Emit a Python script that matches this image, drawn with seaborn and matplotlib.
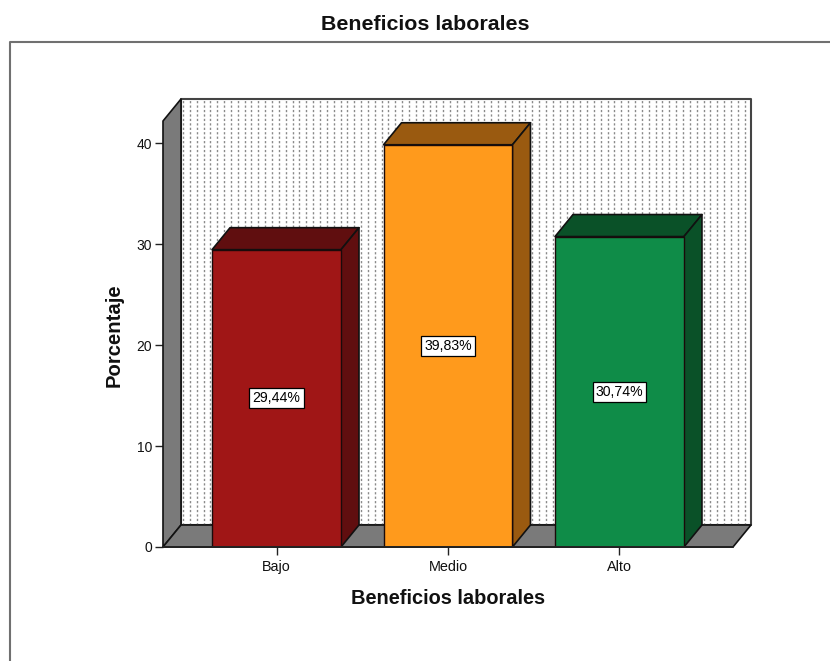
import numpy as np
import matplotlib
matplotlib.use('Agg')
import matplotlib.pyplot as plt
from matplotlib.lines import Line2D
from matplotlib.patches import Polygon
import seaborn as sns

categorias = ['Bajo', 'Medio', 'Alto']
porcentajes = [29.44, 39.83, 30.74]
cores_frente = ['#A01616', '#FF9A1C', '#0F8C48']
cores_lado = ['#600E0F', '#9A5A10', '#0A5128']
ticks_y = [0, 10, 20, 30, 40]

titulo = 'Beneficios laborales'
rotulo_x = 'Beneficios laborales'
rotulo_y = 'Porcentaje'

sns.set_theme(style='white')
plt.rcParams['font.family'] = ['Liberation Sans', 'DejaVu Sans']

W, H = 830, 661
fig = plt.figure(figsize=(W / 100, H / 100), dpi=100)
ax = fig.add_axes([163 / W, (H - 547) / H, 570 / W, 448 / H])

df = {'cat': categorias, 'pct': porcentajes}
sns.barplot(data=df, x='cat', y='pct', hue='cat', palette=cores_frente, legend=False,
            width=0.752, saturation=1, edgecolor='#1a0a0a', linewidth=1.0, ax=ax, zorder=5)

x_min, x_max = -0.662, 2.662
y_min, y_max = 0, 44.36
ax.set_xlim(x_min, x_max)
ax.set_ylim(y_min, y_max)

# profundidade do efeito 3D, em unidades dos dados
dx = 18 / 171.5
dy = 22 / 10.1


def poly(pontos, cor, z, borda='#111111', lw=1.2):
    ax.add_patch(Polygon(pontos, closed=True, facecolor=cor, edgecolor=borda,
                         linewidth=lw, zorder=z, clip_on=False, joinstyle='round'))


# parede do fundo, parede esquerda e chao
poly([(x_min + dx, dy), (x_max + dx, dy), (x_max + dx, y_max), (x_min + dx, y_max)], 'white', 1, '#444444', 1.5)
for xp in np.arange(x_min + dx + 2 / 171.5, x_max + dx, 6.85 / 171.5):
    ax.plot([xp, xp], [dy, y_max], color='#8a8a8a', lw=1.0, ls=(0, (1.6, 1.6)), zorder=1.5, clip_on=False)
poly([(x_min, 0), (x_min + dx, dy), (x_min + dx, y_max), (x_min, y_max - dy)], '#7A7A7A', 2)
poly([(x_min, 0), (x_max, 0), (x_max + dx, dy), (x_min + dx, dy)], '#7A7A7A', 2)

# faces de cima e do lado das barras
for barra, lado, v in zip(ax.patches, cores_lado, porcentajes):
    x0 = barra.get_x()
    x1 = x0 + barra.get_width()
    poly([(x0, v), (x1, v), (x1 + dx, v + dy), (x0 + dx, v + dy)], lado, 4)
    poly([(x1, 0), (x1 + dx, dy), (x1 + dx, v + dy), (x1, v)], lado, 4)
    ax.text((x0 + x1) / 2, v / 2, f'{v:.2f}'.replace('.', ',') + '%', ha='center', va='center',
            fontsize=10.2, color='black', zorder=7,
            bbox=dict(boxstyle='square,pad=0.22', facecolor='white', edgecolor='black', linewidth=0.9))

ax.plot([x_min, x_max], [0, 0], color='#222222', lw=1.4, zorder=6, clip_on=False)

sns.despine(ax=ax, left=True, bottom=True, top=True, right=True)
ax.set_yticks(ticks_y)
ax.tick_params(axis='both', direction='out', length=6, width=1, color='#222222', labelcolor='#111111',
               labelsize=10, pad=2, bottom=True, left=True)
ax.tick_params(axis='x', labelsize=10.4, pad=3.3)
ax.grid(False)

ax.set_xlabel(rotulo_x, fontsize=14.4, fontweight='bold', color='#111111', labelpad=10.5, x=(448 - 163) / 570)
ax.set_ylabel(rotulo_y, fontsize=14.6, fontweight='bold', color='#111111', labelpad=9, y=(547 - 335) / 448)

fig.text(425.5 / W, 1 - 25 / H, titulo, ha='center', va='center', fontsize=15.4, fontweight='bold', color='#111111')

# moldura cinza em volta do grafico
fig.add_artist(Line2D([10 / W, 10 / W, 1], [0, 1 - 42 / H, 1 - 42 / H], color='#707070', lw=1.5))

fig.savefig('out.png', dpi=100)
